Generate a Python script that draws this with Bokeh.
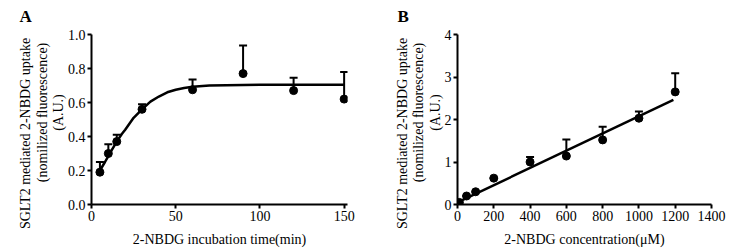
from bokeh.plotting import figure
from bokeh.layouts import row
from bokeh.models import ColumnDataSource, Whisker, TeeHead, FixedTicker, Range1d, NumeralTickFormatter
from bokeh.embed import file_html
from bokeh.resources import INLINE

FONT = '"Liberation Serif", "Times New Roman", serif'

# Panel A data
a_time = [5, 10, 15, 30, 60, 90, 120, 150]
a_mean = [0.19, 0.30, 0.37, 0.56, 0.675, 0.77, 0.67, 0.62]
a_upper = [0.25, 0.355, 0.41, 0.59, 0.735, 0.935, 0.745, 0.78]
a_fit_t = [5, 8, 10, 12, 15, 18, 20, 25, 30, 35, 40, 45, 50, 55, 60, 70, 80, 100, 125, 150]
a_fit_y = [0.20, 0.25, 0.285, 0.32, 0.37, 0.415, 0.44, 0.51, 0.56, 0.605, 0.635, 0.66, 0.675, 0.685, 0.692, 0.70, 0.702, 0.704, 0.705, 0.705]
a_xticks = [0, 50, 100, 150]
a_yticks = [0.0, 0.2, 0.4, 0.6, 0.8, 1.0]

# Panel B data
b_conc = [10, 50, 100, 200, 400, 600, 800, 1000, 1200]
b_mean = [0.05, 0.2, 0.3, 0.62, 1.0, 1.14, 1.52, 2.03, 2.65]
b_upper = [0.05, 0.2, 0.3, 0.62, 1.12, 1.53, 1.83, 2.19, 3.09]
b_fit_x = [0, 1190]
b_fit_y = [0.05, 2.46]
b_xticks = [0, 200, 400, 600, 800, 1000, 1200, 1400]
b_yticks = [0, 1, 2, 3, 4]

NB = "\u00a0"
YLABEL = ("SGLT2 mediated 2-NBDG uptake" + NB * 8 + "\n"
          + NB * 4 + "(nomilized fluorescence)\n"
          + NB * 4 + "(A.U.)")


def style(p):
    p.grid.visible = False
    p.outline_line_color = None
    p.background_fill_color = "white"
    p.border_fill_color = "white"
    for ax in (p.xaxis[0], p.yaxis[0]):
        ax.axis_line_width = 2
        ax.axis_line_color = "black"
        ax.major_tick_line_width = 2
        ax.major_tick_line_color = "black"
        ax.major_tick_out = 4
        ax.major_tick_in = 0
        ax.minor_tick_line_color = None
        ax.major_label_text_font = FONT
        ax.major_label_text_font_size = "14px"
        ax.major_label_text_color = "black"
        ax.axis_label_text_font = FONT
        ax.axis_label_text_font_size = "14px"
        ax.axis_label_text_font_style = "normal"
        ax.axis_label_text_color = "black"
        ax.major_label_standoff = 2
    p.xaxis[0].axis_label_standoff = 8
    p.yaxis[0].axis_label_standoff = -1
    p.yaxis[0].axis_label_text_line_height = 1.1


def panel(xs, ys, ups, fx, fy, xr, yr, xticks, yticks, xlabel, letter, fmt, bl, br, fw, toff):
    p = figure(frame_width=fw, frame_height=170, x_range=Range1d(*xr), y_range=Range1d(*yr),
               output_backend="svg", toolbar_location=None,
               min_border_left=bl, min_border_right=br, min_border_top=34, min_border_bottom=39,
               x_axis_label=xlabel, y_axis_label=YLABEL, title=letter)
    style(p)
    p.title.text_font = FONT
    p.title.text_font_size = "17px"
    p.title.text_font_style = "bold"
    p.title.text_color = "black"
    p.title.align = "left"
    p.title.vertical_align = "top"
    p.title.offset = toff
    p.title.standoff = 13
    p.xaxis.ticker = FixedTicker(ticks=xticks)
    p.yaxis.ticker = FixedTicker(ticks=yticks)
    if fmt:
        p.yaxis.formatter = NumeralTickFormatter(format="0.0")
    src = ColumnDataSource(dict(x=xs, y=ys, up=ups))
    w = Whisker(base="x", lower="y", upper="up", source=src, dimension="height",
                line_width=2, line_color="black",
                upper_head=TeeHead(size=8, line_width=2, line_color="black"), lower_head=None)
    p.add_layout(w)
    p.line(fx, fy, line_width=2.5, line_color="black")
    p.scatter("x", "y", source=src, size=8, color="black")
    return p


pa = panel(a_time, a_mean, a_upper, a_fit_t, a_fit_y, (0, 152), (0, 1.0), a_xticks, a_yticks,
           "2-NBDG incubation time(min)", "A", True, 91, 22, 256, -72)
pb = panel(b_conc, b_mean, b_upper, b_fit_x, b_fit_y, (0, 1400), (0, 4), b_xticks, b_yticks,
           "2-NBDG concentration(\u03bcM)", "B", False, 88, 15, 254, -60)

layout = row(pa, pb, spacing=0)
open("out.html", "w").write(file_html(layout, INLINE))
